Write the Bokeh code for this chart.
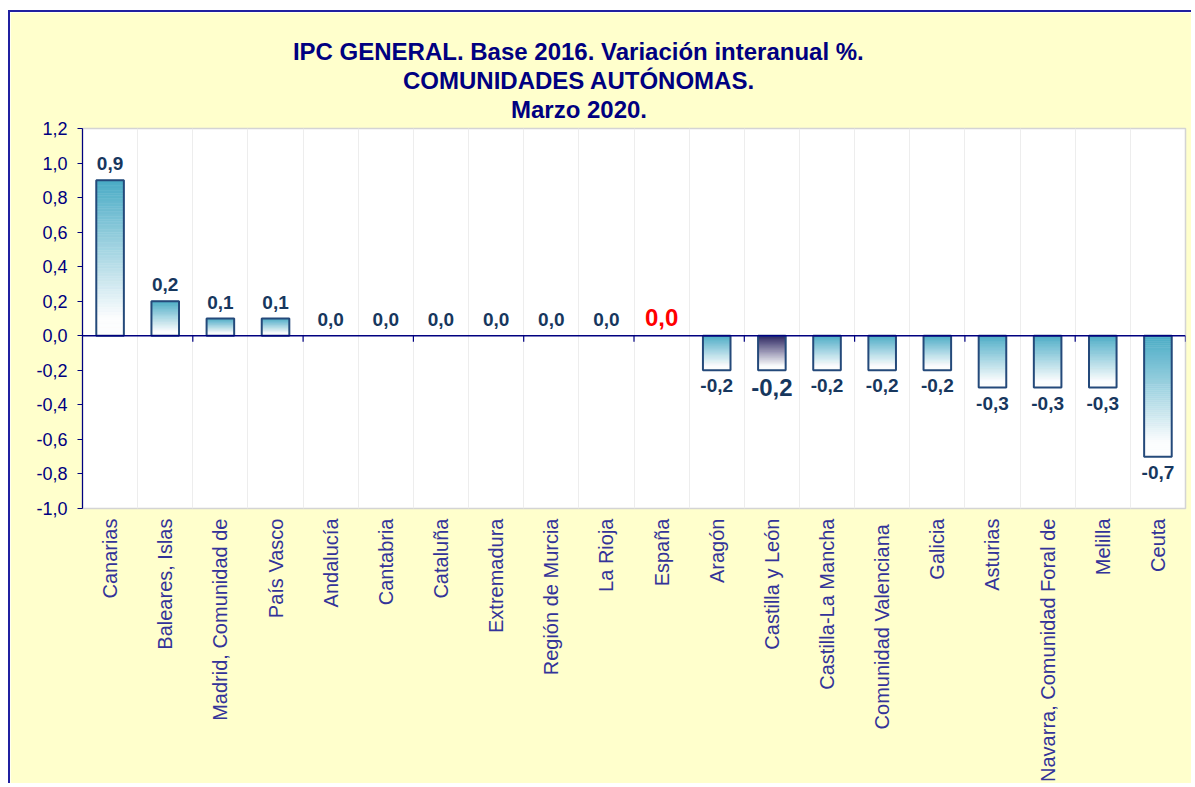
import numpy as np
from bokeh.plotting import figure
from bokeh.models import (ColumnDataSource, FixedTicker, CustomJSTickFormatter,
                          Span, Title, Grid)
from bokeh.embed import file_html
from bokeh.resources import INLINE
from bokeh.core.properties import value

# ---------------- data ----------------
categories = ["Canarias", "Baleares, Islas", "Madrid, Comunidad de", "País Vasco",
              "Andalucía", "Cantabria", "Cataluña", "Extremadura", "Región de Murcia",
              "La Rioja", "España", "Aragón", "Castilla y León", "Castilla-La Mancha",
              "Comunidad  Valenciana", "Galicia", "Asturias",
              "Navarra, Comunidad Foral de", "Melilla", "Ceuta"]
values = [0.9, 0.2, 0.1, 0.1, 0.0, 0.0, 0.0, 0.0, 0.0, 0.0, 0.0,
          -0.2, -0.2, -0.2, -0.2, -0.2, -0.3, -0.3, -0.3, -0.7]
y_ticks = [-1.0, -0.8, -0.6, -0.4, -0.2, 0.0, 0.2, 0.4, 0.6, 0.8, 1.0, 1.2]
title_lines = ["IPC GENERAL. Base 2016. Variación interanual %.",
               "COMUNIDADES AUTÓNOMAS.",
               "Marzo 2020."]
total_label = "España"
emph_label = "Castilla y León"

# ---------------- layout / style ----------------
FONT = "Liberation Sans"
NAVY = "#000080"
Y_MIN, Y_MAX = -1.0, 1.2
FRAME_H = 380
PX = FRAME_H / (Y_MAX - Y_MIN)
n = len(categories)
centers = [i + 0.5 for i in range(n)]

p = figure(width=1183, height=773, x_range=(0, n), y_range=(Y_MIN, Y_MAX),
           output_backend="svg", toolbar_location=None,
           min_border_left=72, min_border_right=8, min_border_top=116,
           min_border_bottom=277)
p.styles = {"border-left": "2px solid #2020A0", "border-top": "2px solid #2020A0",
            "margin-top": "10px", "margin-left": "8px"}
p.background_fill_color = "white"
p.border_fill_color = "#FFFFCC"
p.outline_line_color = "#D4D4D4"
p.outline_line_width = 1.5
p.xgrid.visible = False
p.ygrid.visible = False
p.add_layout(Grid(dimension=0, ticker=FixedTicker(ticks=list(range(1, n))),
                  grid_line_color="#EDEDED", grid_line_width=1))

# y axis
ax = p.yaxis[0]
ax.ticker = FixedTicker(ticks=y_ticks)
ax.formatter = CustomJSTickFormatter(code="return tick.toFixed(1).replace('.', ',');")
ax.axis_line_color = NAVY
ax.axis_line_width = 1.2
ax.major_tick_line_color = NAVY
ax.major_tick_out = 5
ax.major_tick_in = 0
ax.minor_tick_line_color = None
ax.major_label_text_font = FONT
ax.major_label_text_font_size = "18px"
ax.major_label_text_color = NAVY
ax.major_label_standoff = 10

# x axis: category names, vertical
xa = p.xaxis[0]
xa.ticker = FixedTicker(ticks=centers)
xa.formatter = CustomJSTickFormatter(args=dict(labels=categories),
                                     code="return labels[Math.floor(tick)];")
xa.major_label_orientation = np.pi / 2
xa.axis_line_color = None
xa.major_tick_line_color = None
xa.minor_tick_line_color = None
xa.major_tick_out = 0
xa.major_tick_in = 0
xa.major_label_standoff = 10
xa.major_label_text_font = FONT
xa.major_label_text_font_size = "20px"
xa.major_label_text_color = "#333399"

# ---------------- gradient bars ----------------
TEAL = (75, 172, 198)
DARK = (42, 36, 96)
WHITE = (252, 253, 254)
N = 60


def mix(c1, c2, t):
    return "#%02x%02x%02x" % tuple(int(round(a + (b - a) * t)) for a, b in zip(c1, c2))


q = dict(left=[], right=[], top=[], bottom=[], color=[])
for cat, x, v in zip(categories, centers, values):
    if v == 0:
        continue
    top, bot = max(v, 0.0), min(v, 0.0)
    base = DARK if cat == emph_label else TEAL
    for k in range(N):
        t0 = top - (top - bot) * k / N
        t1 = top - (top - bot) * (k + 1) / N
        f = min(1.0, (k / (N - 1)) * 1.12)
        q["left"].append(x - 0.25)
        q["right"].append(x + 0.25)
        q["top"].append(t0)
        q["bottom"].append(t1)
        q["color"].append(mix(base, WHITE, f))
p.quad(source=ColumnDataSource(q), left="left", right="right", top="top",
       bottom="bottom", fill_color="color", line_color="color", line_width=0.6)

nz = [(x, v) for x, v in zip(centers, values) if v != 0]
p.vbar(x=[a for a, _ in nz], top=[b for _, b in nz], bottom=0, width=0.5,
       fill_color=None, line_color="#24497A", line_width=2)

# zero line and its ticks
p.add_layout(Span(location=0, dimension="width", line_color=NAVY, line_width=1.5))
bounds = list(range(2, n + 1, 2))
p.segment(x0=bounds, x1=bounds, y0=[0] * len(bounds), y1=[-6 / PX] * len(bounds),
          line_color=NAVY, line_width=1.2)

# ---------------- value labels ----------------
def fmt(v):
    return f"{v:.1f}".replace(".", ",")


def lab_style(cat):
    if cat == total_label:
        return "#FF0000", "24px"
    if cat == emph_label:
        return "#17375E", "24px"
    return "#17375E", "19px"


GAP_UP, GAP_DOWN = 10, 9   # px between bar end and its label
above = dict(x=[], y=[], text=[], color=[], size=[])
below = dict(x=[], y=[], text=[], color=[], size=[])
for cat, x, v in zip(categories, centers, values):
    c, s = lab_style(cat)
    d = above if v >= 0 else below
    d["x"].append(x)
    d["y"].append(v + GAP_UP / PX if v >= 0 else v - GAP_DOWN / PX)
    d["text"].append(fmt(v))
    d["color"].append(c)
    d["size"].append(s)

p.text(source=ColumnDataSource(above), x="x", y="y", text="text",
       text_color="color", text_font_size="size", text_font=value(FONT),
       text_font_style="bold", text_align="center", text_baseline="bottom")
p.text(source=ColumnDataSource(below), x="x", y="y", text="text",
       text_color="color", text_font_size="size", text_font=value(FONT),
       text_font_style="bold", text_align="center", text_baseline="top")

# ---------------- title ----------------
# Arial/Liberation Sans Bold advance widths (1/1000 em), to centre lines at a point
BOLD_W = {" ": 278, ".": 278, ",": 278, "%": 889, "A": 722, "B": 722, "C": 722,
          "D": 722, "E": 667, "G": 778, "I": 278, "L": 611, "M": 833, "N": 722,
          "O": 778, "Ó": 778, "P": 667, "R": 722, "S": 667, "T": 611, "U": 722,
          "V": 667, "a": 556, "c": 556, "e": 556, "i": 278, "l": 278, "n": 611,
          "o": 611, "ó": 611, "r": 389, "s": 556, "t": 333, "u": 611, "z": 500}
TITLE_SIZE = 24
TITLE_CENTER = 578.5 - 82      # relative to frame left


def text_width(s, size):
    return sum(BOLD_W.get(ch, 556) for ch in s) * size / 1000


p.title.text = ""
standoffs = [12, -12, 12]
for line, so in reversed(list(zip(title_lines, standoffs))):
    off = TITLE_CENTER - text_width(line, TITLE_SIZE) / 2
    p.add_layout(Title(text=line, align="left", offset=off, standoff=so,
                       text_font=FONT, text_font_size=f"{TITLE_SIZE}px",
                       text_font_style="bold", text_color=NAVY), "above")

open("out.html", "w").write(file_html(p, INLINE))
